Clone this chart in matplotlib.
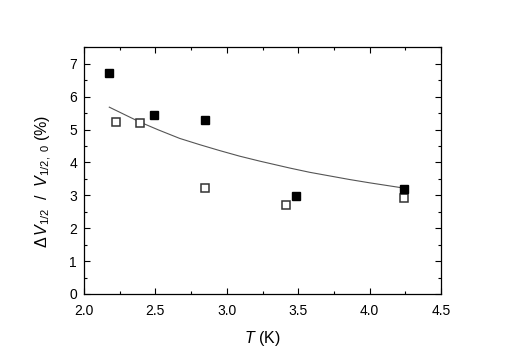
import matplotlib
matplotlib.use("Agg")
import matplotlib.pyplot as plt
from matplotlib.ticker import MultipleLocator, FormatStrFormatter

plt.rcParams['font.family'] = ['Liberation Sans', 'DejaVu Sans']
plt.rcParams['mathtext.fontset'] = 'custom'
plt.rcParams['mathtext.rm'] = 'Liberation Sans'
plt.rcParams['mathtext.it'] = 'Liberation Sans:italic'
plt.rcParams['mathtext.bf'] = 'Liberation Sans:bold'

# filled squares
t_filled = [2.175, 2.488, 2.85, 3.485, 4.24]
v_filled = [6.72, 5.43, 5.29, 2.99, 3.20]

# open squares
t_open = [2.222, 2.394, 2.85, 3.417, 4.24]
v_open = [5.24, 5.20, 3.22, 2.71, 2.93]

# curve
t_curve = [2.177, 2.30, 2.39, 2.52, 2.67, 2.81, 2.95, 3.09, 3.23, 3.44, 3.58, 3.72, 3.86, 4.00, 4.21]
v_curve = [5.68, 5.42, 5.23, 4.99, 4.73, 4.54, 4.36, 4.19, 4.04, 3.83, 3.70, 3.59, 3.48, 3.38, 3.24]

fig = plt.figure(figsize=(5.08, 3.54), dpi=100)
ax = fig.add_axes([0.1654, 0.1695, 0.8681 - 0.1654, 0.8664 - 0.1695])

ax.plot(t_curve, v_curve, color='#555555', lw=0.8, zorder=1)
ax.plot(t_open, v_open, ls='none', marker='s', ms=6, mfc='white', mec='#333333', mew=1.1, zorder=2)
ax.plot(t_filled, v_filled, ls='none', marker='s', ms=6.3, mfc='black', mec='black', zorder=3)

ax.set_xlim(2.0, 4.5)
ax.set_ylim(0, 7.5)
ax.xaxis.set_major_locator(MultipleLocator(0.5))
ax.xaxis.set_minor_locator(MultipleLocator(0.25))
ax.xaxis.set_major_formatter(FormatStrFormatter('%.1f'))
ax.yaxis.set_major_locator(MultipleLocator(1))
ax.yaxis.set_minor_locator(MultipleLocator(0.5))

ax.tick_params(which='both', direction='in', top=True, right=True, labelsize=10, width=0.8)
ax.tick_params(which='major', length=4)
ax.tick_params(axis='x', which='major', pad=7)
ax.tick_params(axis='y', which='major', pad=5)
ax.tick_params(which='minor', length=2.5)
for s in ax.spines.values():
    s.set_linewidth(0.9)

ax.set_xlabel(r'$T$ (K)', fontsize=11.5)
ax.set_ylabel(r'$\Delta\,V_{1/2}$  /  $V_{1/2,\ 0}$ (%)', fontsize=11.5)
ax.xaxis.set_label_coords(0.5, -0.14)
ax.yaxis.set_label_coords(-0.084, 0.455)

fig.savefig('out.png', dpi=100)
